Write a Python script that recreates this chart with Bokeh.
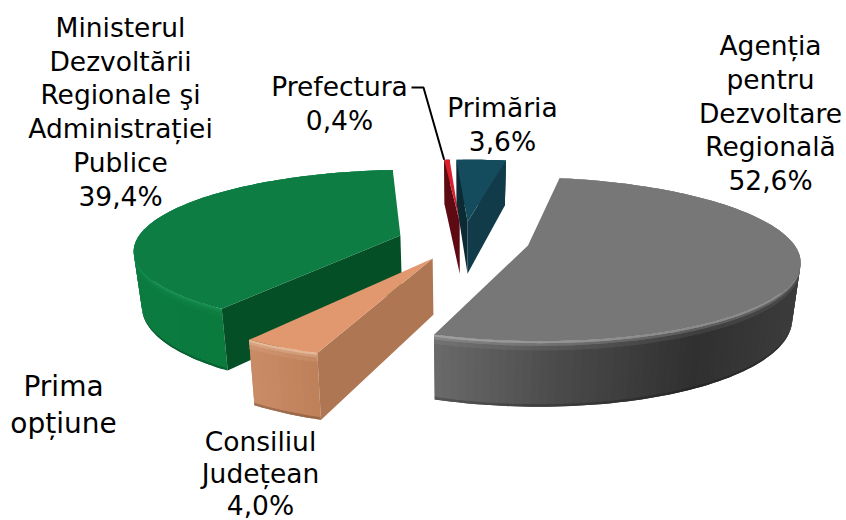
import numpy as np
from bokeh.embed import file_html
from bokeh.resources import INLINE
from bokeh.models import Range1d, ColumnDataSource
from bokeh.plotting import figure
from bokeh.core.properties import value

# ---- data ----
categories = ["Agenția pentru Dezvoltare Regională", "Consiliul Județean",
              "Ministerul Dezvoltării Regionale şi Administrației Publice",
              "Prefectura", "Primăria"]
shares = [52.6, 4.0, 39.4, 0.4, 3.6]
share_labels = ["52,6%", "4,0%", "39,4%", "0,4%", "3,6%"]
title_lines = ["Prima", "opțiune"]

# ---- 3D projection set-up ----
W, H_PAGE = 846, 520
START = 10.2
CX, CY = 463.0, 240.0
R, RB, K, H = 264.0, 78.0, 0.165, 54.0
EXPLODE = 0.25
FONT = "DejaVu Sans"
FS = "26.5px"

top_col = ["#777777", "#E2986E", "#0D7D43", "#D81F2E", "#154C5D"]
inner_col = [("#555555", "#555555"), ("#AF7653", "#AF7653"), ("#054F26", "#054F26"),
             ("#5E0A12", "#5E0A12"), ("#0B2A33", "#123B4A")]
wall_stops = [
    [(0, "#6a6a6a"), (.35, "#4a4a4a"), (.72, "#303030"), (1, "#3c3c3c")],
    [(0, "#ca8c67"), (1, "#bd8059")],
    [(0, "#0c7b40"), (1, "#0b7a3d")],
    [(0, "#5E0A12"), (1, "#5E0A12")],
    [(0, "#123B4A"), (1, "#123B4A")],
]
highlight = ["#c4c4c4", "#f8d8bd", "#1b9a58", "#e05560", "#2a6c80"]
paint_order = [2, 3, 4, 0, 1]


def hex2rgb(c):
    return np.array([int(c[i:i + 2], 16) for i in (1, 3, 5)], float)


def rgb2hex(v):
    return "#%02x%02x%02x" % tuple(int(round(max(0, min(255, a)))) for a in v)


def mix(a, b, t):
    return a + (b - a) * t


def project(X, Y, z=0.0):
    w = 1 + K * Y
    s = 1 - 0.025 * z
    return CX + R * X / w * s, CY - (RB * Y - H * z) / w


def stop_color(stops, t):
    for (t0, c0), (t1, c1) in zip(stops, stops[1:]):
        if t <= t1:
            return mix(hex2rgb(c0), hex2rgb(c1), (t - t0) / (t1 - t0))
    return hex2rgb(stops[-1][1])


xs, ys, fills = [], [], []


def add(px, py, col):
    xs.append(list(map(float, px)))
    ys.append(list(map(float, py)))
    fills.append(col)


edges = START + np.concatenate([[0], np.cumsum(shares)]) * 3.6
LAYERS = [(.95, 1, -.2), (.12, .96, 0), (.06, .14, .1), (.02, .07, .3), (0, .03, .6)]
rim_pts = {}
for i in paint_order:
    a0, a1 = np.radians(edges[i]), np.radians(edges[i + 1])
    mid = (a0 + a1) / 2
    ox, oy = EXPLODE * np.sin(mid), EXPLODE * np.cos(mid)
    th = np.linspace(a0, a1, max(4, int((a1 - a0) / np.radians(1.5)) + 1))
    X, Y = ox + np.sin(th), oy + np.cos(th)
    sx0, sy0 = project(X, Y)
    rim_pts[i] = (sx0, sy0)
    front = np.cos(th) < 0.2
    xmin, xmax = (sx0[front].min(), sx0[front].max()) if front.any() else (sx0.min(), sx0.max())
    hl = hex2rgb(highlight[i])
    # outer wall: each quad overlaps the next one so no seams show
    for z0, z1, amt in LAYERS:
        for j in range(len(th) - 1):
            t = np.clip((0.5 * (sx0[j] + sx0[j + 1]) - xmin) / max(xmax - xmin, 1), 0, 1)
            base = stop_color(wall_stops[i], t)
            col = mix(base, hl, amt) if amt >= 0 else base * (1 + amt)
            e = min(j + 3, len(th))
            px0, py0 = project(X[j:e], Y[j:e], z0)
            px1, py1 = project(X[j:e], Y[j:e], z1)
            add(np.r_[px0, px1[::-1]], np.r_[py0, py1[::-1]], rgb2hex(col))
    # inner walls, only those that face the viewer
    cx_, cy_ = project(np.array([ox]), np.array([oy]))
    mx, my = sx0[len(th) // 2] - cx_[0], sy0[len(th) // 2] - cy_[0]
    for c, k in ((inner_col[i][0], 0), (inner_col[i][1], -1)):
        ex, ey = sx0[k] - cx_[0], sy0[k] - cy_[0]
        if (ex * my - ey * mx) * ex > 0:
            continue
        p0 = project(np.array([ox, X[k]]), np.array([oy, Y[k]]), 0)
        p1 = project(np.array([ox, X[k]]), np.array([oy, Y[k]]), 1)
        add(np.r_[p0[0], p1[0][::-1]], np.r_[p0[1], p1[1][::-1]], c)
    # top face
    add(np.r_[cx_, sx0], np.r_[cy_, sy0], top_col[i])

p = figure(width=W, height=H_PAGE, output_backend="svg", toolbar_location=None,
           x_range=Range1d(0, W), y_range=Range1d(H_PAGE, 0), min_border=0,
           background_fill_color="white", border_fill_color="white", outline_line_color=None)
p.axis.visible = False
p.grid.visible = False

p.patches("xs", "ys", source=ColumnDataSource(dict(xs=xs, ys=ys, c=fills)),
          fill_color="c", line_color=None)

# leader line from the Prefectura label to its slice
rx, ry = rim_pts[3]
p.line([411, 423, float(rx[0])], [87, 87, float(ry[0])], line_color="black", line_width=2)

# labels: (lines, centre x, first-line y, line step)
blocks = [
    (["Agenția", "pentru", "Dezvoltare", "Regională", share_labels[0]], 770, 45, 33.8),
    (["Consiliul", "Județean", share_labels[1]], 260, 441, 32),
    (["Ministerul", "Dezvoltării", "Regionale şi", "Administrației", "Publice", share_labels[2]], 120, 27, 33.7),
    (["Prefectura", share_labels[3]], 339, 86, 34),
    (["Primăria", share_labels[4]], 502, 107, 34),
]
tx, ty, tt = [], [], []
for lines, x, y, step in blocks:
    for n, s in enumerate(lines):
        tx.append(x)
        ty.append(y + n * step)
        tt.append(s)
p.text(tx, ty, text=tt, text_font=value(FONT), text_font_size=FS, text_align="center",
       text_baseline="middle", text_color="black")
p.text([63, 63], [386, 423], text=title_lines, text_font=value(FONT), text_font_size="28px",
       text_align="center", text_baseline="middle", text_color="black")

open("out.html", "w").write(file_html(p, INLINE))
